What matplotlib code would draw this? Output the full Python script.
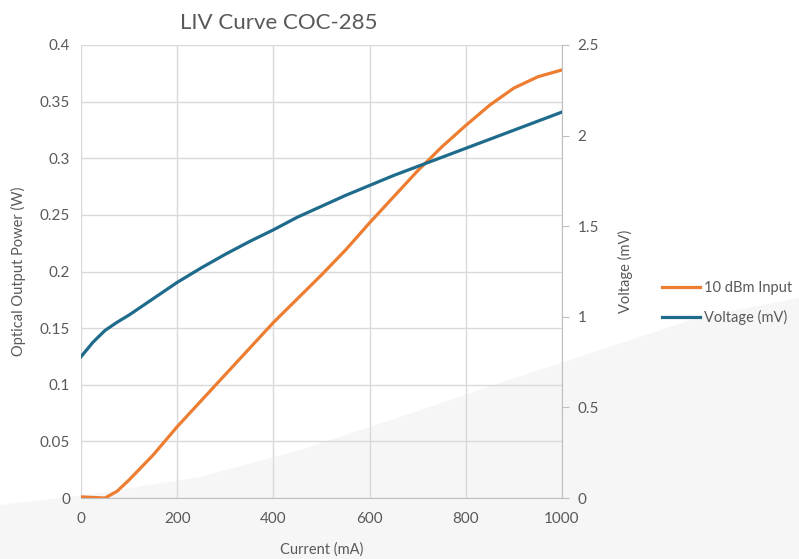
import numpy as np
import matplotlib.pyplot as plt
from matplotlib.patches import Polygon

plt.rcParams['font.family'] = ['Lato', 'DejaVu Sans']

# data
current_ma = [0, 25, 50, 75, 100, 150, 200, 250, 300, 350, 400, 450, 500,
              550, 600, 650, 700, 750, 800, 850, 900, 950, 1000]
power_w = [0.001, 0.0005, 0.0, 0.006, 0.016, 0.038, 0.063, 0.086, 0.109,
           0.132, 0.155, 0.176, 0.197, 0.219, 0.243, 0.266, 0.289, 0.310,
           0.329, 0.347, 0.362, 0.372, 0.378]
voltage_mv = [0.78, 0.86, 0.925, 0.97, 1.01, 1.10, 1.19, 1.27, 1.345, 1.415,
              1.48, 1.55, 1.61, 1.67, 1.725, 1.78, 1.83, 1.88, 1.93, 1.98,
              2.03, 2.08, 2.13]

orange = '#ED7D31'
blue = '#1F6B8C'
txt = '#595959'
grid = '#D9D9D9'

fig = plt.figure(figsize=(7.99, 5.59), dpi=100)

# light grey decorative swoosh behind the chart (pixel outline of the backdrop)
sw_x = [0, 100, 200, 300, 400, 500, 600, 700, 799, 799, 0]
sw_y = [505, 493, 477, 450, 417, 383, 350, 317, 298, 559, 559]
bg = Polygon(np.column_stack([np.array(sw_x) / 799, 1 - np.array(sw_y) / 559]),
             closed=True, transform=fig.transFigure, facecolor='#F6F6F6',
             edgecolor='none', zorder=-10)
fig.patches.append(bg)

ax = fig.add_axes([0.1014, 0.1091, 0.602, 0.8104])
ax.set_facecolor('none')
ax2 = ax.twinx()

l1, = ax.plot(current_ma, power_w, color=orange, lw=2.3, label='10 dBm Input',
              solid_joinstyle='round')
l2, = ax2.plot(current_ma, voltage_mv, color=blue, lw=2.3, label='Voltage (mV)',
               solid_joinstyle='round')

ax.set_xlim(0, 1000)
ax.set_ylim(0, 0.4)
ax2.set_ylim(0, 2.5)
ax.set_xticks(range(0, 1001, 200))
ax.set_yticks(np.arange(0, 0.401, 0.05))
ax.set_yticklabels(['0', '0.05', '0.1', '0.15', '0.2', '0.25', '0.3', '0.35', '0.4'])
ax2.set_yticks(np.arange(0, 2.51, 0.5))
ax2.set_yticklabels(['0', '0.5', '1', '1.5', '2', '2.5'])

ax.grid(True, color=grid, lw=1)
ax.set_axisbelow(True)
for s in ['top', 'left', 'right']:
    ax.spines[s].set_visible(False)
ax.spines['bottom'].set_color('#BFBFBF')
for s in ['top', 'left', 'bottom']:
    ax2.spines[s].set_visible(False)
ax2.spines['right'].set_color('#BFBFBF')

ax.tick_params(axis='both', length=0, labelsize=11, colors=txt, pad=8)
ax.tick_params(axis='x', pad=10)
ax2.tick_params(axis='y', length=5, color='#BFBFBF', labelsize=11,
                colors=txt, pad=6)

ax.set_xlabel('Current (mA)', fontsize=10.5, color=txt, labelpad=12)
ax.set_ylabel('Optical Output Power (W)', fontsize=10.5, color=txt, labelpad=10)
ax2.set_ylabel('Voltage (mV)', fontsize=10.5, color=txt, labelpad=14)
fig.text(0.349, 0.958, 'LIV Curve COC-285', fontsize=16, color=txt,
         ha='center', va='center')

fig.legend(handles=[l1, l2], loc='center left', bbox_to_anchor=(0.812, 0.458),
           frameon=False, fontsize=10.5, labelcolor=txt, handlelength=2.6,
           handletextpad=0.3, labelspacing=1.0)

fig.savefig('out.png', dpi=100)
